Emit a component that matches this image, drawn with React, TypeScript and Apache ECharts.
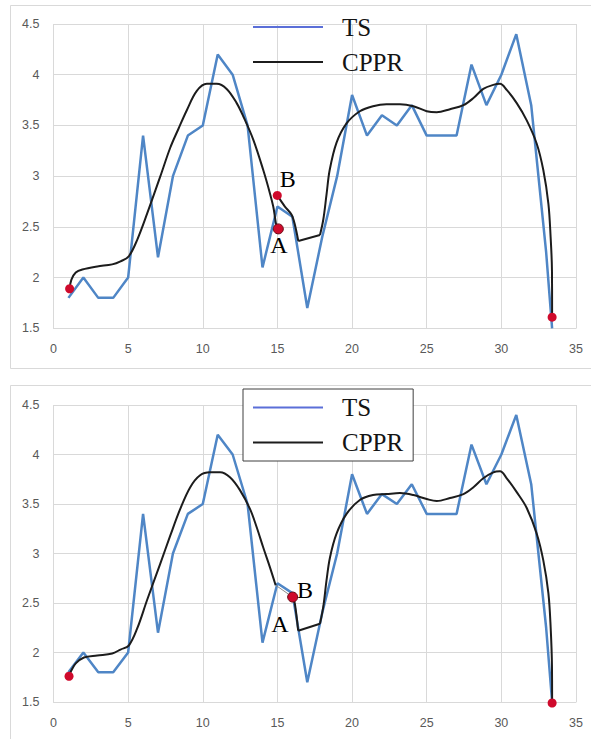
import React, { useEffect, useRef } from "react";
import * as echarts from "echarts";

// TS series (same in both panels)
const TS_X = [1, 2, 3, 4, 5, 6, 7, 8, 9, 10, 11, 12, 13, 14, 15, 16, 17, 18, 19, 20, 21, 22, 23, 24, 25, 26, 27, 28, 29, 30, 31, 32, 33, 33.4];
const TS_Y = [1.8, 2.0, 1.8, 1.8, 2.0, 3.4, 2.2, 3.0, 3.4, 3.5, 4.2, 4.0, 3.5, 2.1, 2.7, 2.6, 1.7, 2.4, 3.0, 3.8, 3.4, 3.6, 3.5, 3.7, 3.4, 3.4, 3.4, 4.1, 3.7, 4.0, 4.4, 3.7, 2.25, 1.5];

// Top panel CPPR pieces
const TOP_C1_X = [1.08, 1.2, 1.49, 1.93, 2.93, 3.93, 4.49, 5.04, 5.6, 6.27, 7.16, 7.82, 8.38, 8.93, 9.6, 10.27, 10.93, 11.6, 12.27, 12.71, 13.38, 14.05, 14.5, 14.72, 14.83, 14.92, 15.06];
const TOP_C1_Y = [1.89, 1.98, 2.05, 2.08, 2.11, 2.13, 2.16, 2.21, 2.37, 2.63, 3.0, 3.28, 3.47, 3.65, 3.84, 3.91, 3.91, 3.86, 3.72, 3.59, 3.36, 3.06, 2.83, 2.7, 2.6, 2.52, 2.48];
const TOP_C2_X = [14.99, 15.5, 15.95, 16.17, 16.4];
const TOP_C2_Y = [2.81, 2.7, 2.62, 2.52, 2.36];
const TOP_C3_X = [16.4, 17.85];
const TOP_C3_Y = [2.36, 2.42];
const TOP_C4_X = [17.85, 18.07, 18.29, 18.5, 18.96, 19.63, 20.52, 21.4, 22.3, 23.21, 24.11, 25.0, 25.67, 26.56, 27.46, 28.13, 28.79, 29.46, 29.91, 30.36, 31.03, 31.7, 32.37, 32.81, 33.15, 33.3, 33.39, 33.4];
const TOP_C4_Y = [2.42, 2.57, 2.82, 3.06, 3.33, 3.52, 3.64, 3.69, 3.71, 3.71, 3.69, 3.64, 3.63, 3.66, 3.7, 3.77, 3.86, 3.9, 3.91, 3.85, 3.72, 3.55, 3.32, 3.06, 2.73, 2.4, 2.07, 1.61];
const TOP_DOT_X = [1.08, 14.99, 33.4];
const TOP_DOT_Y = [1.89, 2.81, 1.61];
const TOP_DOT_RING_X = [15.06];
const TOP_DOT_RING_Y = [2.48];
const TOP_LABEL_X = [15.1, 15.69];
const TOP_LABEL_Y = [2.32, 2.97];

// Bottom panel CPPR pieces
const BOT_C1_X = [1.04, 1.2, 1.49, 2.04, 2.93, 3.93, 4.49, 5.04, 5.6, 6.27, 7.16, 7.82, 8.49, 9.16, 9.82, 10.49, 11.16, 11.82, 12.49, 13.16, 13.6, 14.05, 14.5, 14.88];
const BOT_C1_Y = [1.76, 1.82, 1.89, 1.95, 1.97, 1.99, 2.03, 2.07, 2.24, 2.53, 2.9, 3.18, 3.45, 3.67, 3.79, 3.82, 3.82, 3.77, 3.64, 3.45, 3.27, 3.06, 2.86, 2.68];
const BOT_LINK_X = [14.88, 16.02];
const BOT_LINK_Y = [2.68, 2.56];
const BOT_C2_X = [16.02, 16.17, 16.39];
const BOT_C2_Y = [2.56, 2.49, 2.22];
const BOT_C3_X = [16.39, 17.85];
const BOT_C3_Y = [2.22, 2.29];
const BOT_C4_X = [17.85, 18.07, 18.29, 18.52, 18.96, 19.63, 20.52, 21.4, 22.3, 23.21, 24.11, 25.0, 25.67, 26.56, 27.46, 28.13, 28.79, 29.46, 29.91, 30.36, 31.03, 31.7, 32.37, 32.81, 33.15, 33.3, 33.39, 33.4];
const BOT_C4_Y = [2.29, 2.46, 2.73, 2.96, 3.2, 3.4, 3.54, 3.59, 3.6, 3.61, 3.59, 3.55, 3.53, 3.56, 3.6, 3.67, 3.76, 3.82, 3.83, 3.76, 3.62, 3.46, 3.2, 2.93, 2.6, 2.26, 1.86, 1.49];
const BOT_DOT_X = [1.04, 33.4];
const BOT_DOT_Y = [1.76, 1.49];
const BOT_DOT_RING_X = [16.02];
const BOT_DOT_RING_Y = [2.56];
const BOT_LABEL_X = [15.17, 16.84];
const BOT_LABEL_Y = [2.29, 2.63];

const LABEL_NAMES = ["A", "B"];
const LEGEND_NAMES = ["TS", "CPPR"];
const X_TICKS = { min: 0, max: 35, interval: 5 };
const Y_TICKS = { min: 1.5, max: 4.5, interval: 0.5 };

const BLUE = "#4f86c6";
const BLACK = "#1c1c1c";
const RED = "#cf0a2c";
const GRIDLINE = "#d9d9d9";

const zip = (xs: number[], ys: number[]) => xs.map((x, i) => [x, ys[i]]);

function panelSeries(idx: number, p: any) {
  const base = { xAxisIndex: idx, yAxisIndex: idx };
  const black = (xs: number[], ys: number[], smooth: any) => ({
    ...base,
    name: "CPPR",
    type: "line",
    data: zip(xs, ys),
    showSymbol: false,
    symbol: "none",
    smooth,
    lineStyle: { color: BLACK, width: 2 },
    itemStyle: { color: BLACK },
    z: 3,
  });
  const out: any[] = [
    {
      ...base,
      name: "TS",
      type: "line",
      data: zip(TS_X, TS_Y),
      showSymbol: false,
      symbol: "none",
      lineStyle: { color: BLUE, width: 2.5 },
      itemStyle: { color: BLUE },
      z: 2,
    },
    black(p.c1x, p.c1y, 0.35),
    black(p.c2x, p.c2y, 0.3),
    black(p.c3x, p.c3y, false),
    black(p.c4x, p.c4y, 0.35),
  ];
  if (p.linkX) {
    out.push({
      ...base,
      name: "CPPR",
      type: "line",
      data: zip(p.linkX, p.linkY),
      showSymbol: false,
      symbol: "none",
      lineStyle: { color: "#8a8a8a", width: 1 },
      itemStyle: { color: BLACK },
      z: 2,
    });
  }
  out.push({
    ...base,
    type: "scatter",
    data: zip(p.dotX, p.dotY),
    symbolSize: 9,
    clip: false,
    itemStyle: { color: RED, opacity: 1 },
    z: 5,
  });
  out.push({
    ...base,
    type: "scatter",
    data: zip(p.ringX, p.ringY),
    symbolSize: 10,
    clip: false,
    itemStyle: { color: RED, borderColor: "#6b0a14", borderWidth: 1, opacity: 1 },
    z: 5,
  });
  out.push({
    ...base,
    type: "scatter",
    data: p.labX.map((x: number, i: number) => ({ value: [x, p.labY[i]], name: LABEL_NAMES[i] })),
    symbolSize: 1,
    itemStyle: { color: "rgba(0,0,0,0)" },
    label: {
      show: true,
      position: "inside",
      formatter: "{b}",
      fontFamily: "Liberation Serif",
      fontSize: 24,
      color: "#000000",
      textBorderWidth: 0,
      opacity: 1,
    },
    silent: true,
    z: 6,
  });
  return out;
}

function axisPair(idx: number) {
  const labelStyle = { color: "#595959", fontFamily: "Liberation Sans", fontSize: 12.5 };
  return {
    x: {
      type: "value",
      gridIndex: idx,
      ...X_TICKS,
      axisLine: { show: true, lineStyle: { color: GRIDLINE, width: 1 } },
      axisTick: { show: false },
      axisLabel: { ...labelStyle, margin: 14 },
      splitLine: { show: true, lineStyle: { color: GRIDLINE, width: 1 } },
    },
    y: {
      type: "value",
      gridIndex: idx,
      ...Y_TICKS,
      axisLine: { show: false },
      axisTick: { show: false },
      axisLabel: { ...labelStyle, margin: 14 },
      splitLine: { show: true, lineStyle: { color: GRIDLINE, width: 1 } },
    },
  };
}

function legendBox(top: number, bordered: boolean) {
  return {
    orient: "vertical",
    left: 243,
    top,
    padding: [6, 10, 6, 10],
    itemWidth: 70,
    itemHeight: 2,
    itemGap: 10,
    icon: "rect",
    backgroundColor: bordered ? "#ffffff" : "transparent",
    borderColor: bordered ? "#3f3f3f" : "transparent",
    borderWidth: bordered ? 1 : 0,
    data: [
      { name: LEGEND_NAMES[0], itemStyle: { color: "#5b6fd8" } },
      { name: LEGEND_NAMES[1], itemStyle: { color: BLACK } },
    ],
    textStyle: {
      fontFamily: "Liberation Serif",
      fontSize: 25,
      lineHeight: 25,
      color: "#141414",
      padding: [0, 0, 0, 14],
    },
    selectedMode: false,
  };
}

export default function App() {
  const ref = useRef<HTMLDivElement>(null);
  useEffect(() => {
    if (!ref.current) return;
    const chart = echarts.init(ref.current, undefined, { renderer: "svg" });
    const a0 = axisPair(0);
    const a1 = axisPair(1);
    chart.setOption({
      animation: false,
      backgroundColor: "#ffffff",
      grid: [
        { left: 53.5, top: 24, width: 522.5, height: 304.3, containLabel: false },
        { left: 53.5, top: 405, width: 522.5, height: 297, containLabel: false },
      ],
      xAxis: [a0.x, a1.x],
      yAxis: [a0.y, a1.y],
      legend: [legendBox(8.5, false), legendBox(389, true)],
      graphic: [
        {
          type: "rect",
          shape: { x: 10.5, y: 5.5, width: 600, height: 363 },
          style: { fill: "none", stroke: GRIDLINE, lineWidth: 1 },
          silent: true,
          z: 0,
        },
        {
          type: "rect",
          shape: { x: 10.5, y: 385.5, width: 600, height: 400 },
          style: { fill: "none", stroke: GRIDLINE, lineWidth: 1 },
          silent: true,
          z: 0,
        },
      ],
      series: [
        ...panelSeries(0, {
          c1x: TOP_C1_X, c1y: TOP_C1_Y,
          c2x: TOP_C2_X, c2y: TOP_C2_Y,
          c3x: TOP_C3_X, c3y: TOP_C3_Y,
          c4x: TOP_C4_X, c4y: TOP_C4_Y,
          dotX: TOP_DOT_X, dotY: TOP_DOT_Y,
          ringX: TOP_DOT_RING_X, ringY: TOP_DOT_RING_Y,
          labX: TOP_LABEL_X, labY: TOP_LABEL_Y,
        }),
        ...panelSeries(1, {
          c1x: BOT_C1_X, c1y: BOT_C1_Y,
          c2x: BOT_C2_X, c2y: BOT_C2_Y,
          c3x: BOT_C3_X, c3y: BOT_C3_Y,
          c4x: BOT_C4_X, c4y: BOT_C4_Y,
          linkX: BOT_LINK_X, linkY: BOT_LINK_Y,
          dotX: BOT_DOT_X, dotY: BOT_DOT_Y,
          ringX: BOT_DOT_RING_X, ringY: BOT_DOT_RING_Y,
          labX: BOT_LABEL_X, labY: BOT_LABEL_Y,
        }),
      ],
    });
    return () => chart.dispose();
  }, []);
  return (
    <div
      ref={ref}
      style={{ position: "absolute", left: 0, top: 0, width: 591, height: 739 }}
    />
  );
}
